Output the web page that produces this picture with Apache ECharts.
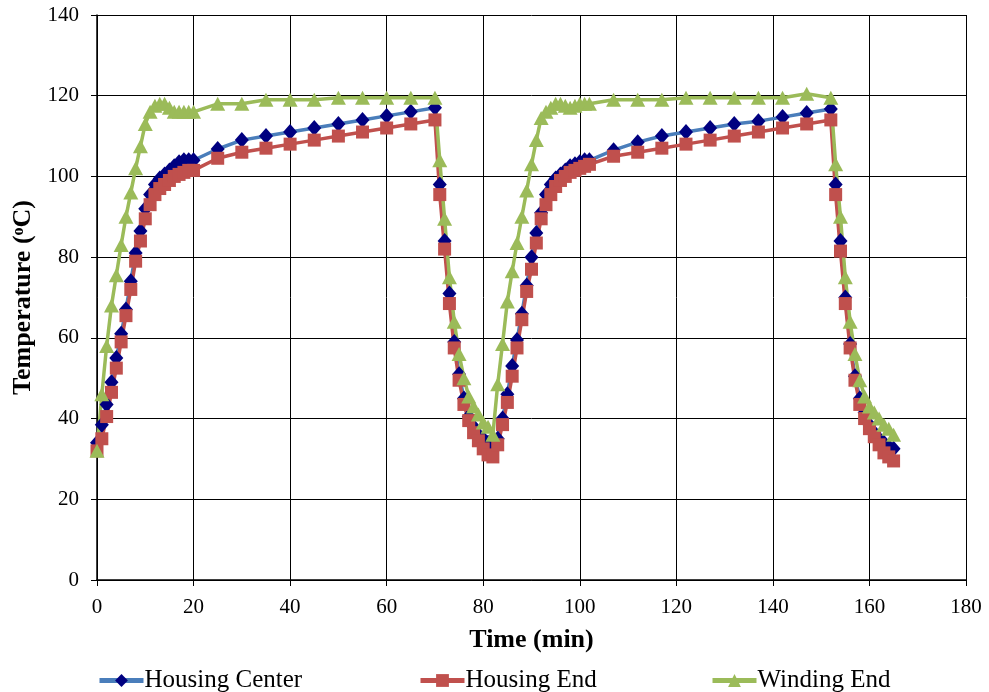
<!DOCTYPE html>
<html>
<head>
<meta charset="utf-8">
<script src="https://cdn.jsdelivr.net/npm/echarts@6/dist/echarts.min.js"></script>
<style>
  html, body { margin: 0; padding: 0; background: #fff; }
  #chart { width: 989px; height: 692px; }
</style>
</head>
<body>
<div id="chart"></div>
<script>
var times = [0,1,2,3,4,5,6,7,8,9,10,11,12,13,14,15,16,17,18,19,20,
  25,30,35,40,45,50,55,60,65,70,
  71,72,73,74,75,76,77,78,79,80,81,
  82,83,84,85,86,87,88,89,90,91,92,93,94,95,96,97,98,99,100,101,102,
  107,112,117,122,127,132,137,142,147,152,
  153,154,155,156,157,158,159,160,161,162,163,164,165];

var housingCenter = [34,38.5,43.5,49,55,61,67,74,81,86.5,92,95.5,98,99.5,100.5,101.5,102.5,103.5,104,104,104,
  106.8,109,110,111,112,113,114,115,116,117,
  98,84,71,59,51,45,40.5,38,36,35,34,
  33,35,40,46,53,59.5,66,73,80,86,91,95.5,98,99.5,100.5,101.5,102.5,103,103.5,104,104,
  106.5,108.5,110,111,112,113,113.7,114.7,115.7,116.7,
  98,84,70,58.5,50.5,45,41.5,38.5,36.5,35,34,33,32.5];

var housingEnd = [32,35,40.5,46.5,52.5,59,65.5,72,79,84,89.5,93,95.5,97,98,99,100,100.5,101,101.5,101.5,
  104.5,106,107,108,109,110,111,112,113,114,
  95.5,82,68.5,57.5,49.5,43.5,39.5,36.5,34.5,32.5,31,
  30.5,33.5,38.5,44,50.5,57.5,64.5,71.5,77,83.5,89.5,93,95.5,97.5,99,100,101,101.5,102,102.5,103,
  105,106,107,108,109,110,111,112,113,114,
  95.5,81.5,68.5,57.5,49.5,43.5,40,37.5,35.5,33.5,31.5,30.5,29.5];

var windingEnd = [32,46,58,68,75.5,83,90,96,102,107.5,113,116,117.5,118,118,117,116,116,116,116,116,
  118,118,119,119,119,119.5,119.5,119.5,119.5,119.5,
  104,89.5,75,64,56,50,45.5,43,41,39,38,
  36,48.5,58.5,69,76.5,83.5,90,96.5,103,109,114.5,116,117,118,118,117.5,117,117.5,118,118,118,
  119,119,119,119.5,119.5,119.5,119.5,119.5,120.5,119.5,
  103,90,75,64,56,49.5,45.5,43,41.5,40,38.5,37.5,36];

var seriesNames = ['Housing Center', 'Housing End', 'Winding End'];
var xTicks = { min: 0, max: 180, interval: 20 };
var yTicks = { min: 0, max: 140, interval: 20 };

function pairs(vals) {
  return times.map(function(t, i) { return [t, vals[i]]; });
}

var font = 'Liberation Serif';
var chart = echarts.init(document.getElementById('chart'), null, { renderer: 'canvas' });

function legendAt(name, left) {
  return {
    data: [name], left: left, top: 663, itemWidth: 44, itemHeight: 16, itemGap: 0,
    lineStyle: { width: 5 },
    textStyle: { fontFamily: font, fontSize: 25, color: '#000', padding: [0, 0, 0, -4] }
  };
}

chart.setOption({
  animation: false,
  backgroundColor: '#fff',
  grid: { left: 97, right: 23, top: 15, bottom: 112 },
  legend: [legendAt(seriesNames[0], 92), legendAt(seriesNames[1], 413), legendAt(seriesNames[2], 705)],
  xAxis: {
    type: 'value', min: xTicks.min, max: xTicks.max, interval: xTicks.interval,
    name: 'Time (min)', nameLocation: 'middle', nameGap: 47,
    nameTextStyle: { fontFamily: font, fontSize: 26, fontWeight: 'bold', color: '#000' },
    axisLine: { show: true, lineStyle: { color: '#000', width: 1.5 } },
    axisTick: { show: true, length: 6, inside: false, lineStyle: { color: '#000' } },
    axisLabel: { fontFamily: font, fontSize: 21, color: '#000', margin: 17 },
    splitLine: { show: true, lineStyle: { color: '#000', width: 1 } }
  },
  yAxis: {
    type: 'value', min: yTicks.min, max: yTicks.max, interval: yTicks.interval,
    name: '{a|Temperature (}{s|o}{a|C)}', nameLocation: 'middle', nameGap: 54,
    nameTextStyle: {
      fontFamily: font, fontSize: 26, fontWeight: 'bold', color: '#000',
      rich: {
        a: { fontFamily: font, fontSize: 26, fontWeight: 'bold', color: '#000' },
        s: { fontFamily: font, fontSize: 16, fontWeight: 'bold', color: '#000', verticalAlign: 'top', padding: [0, 0, 8, 0] }
      }
    },
    axisLine: { show: true, lineStyle: { color: '#000', width: 1.5 } },
    axisTick: { show: true, length: 6, lineStyle: { color: '#000' } },
    axisLabel: { fontFamily: font, fontSize: 21, color: '#000', margin: 18 },
    splitLine: { show: true, lineStyle: { color: '#000', width: 1 } }
  },
  series: [
    {
      name: seriesNames[0], type: 'line', data: pairs(housingCenter),
      symbol: 'diamond', symbolSize: [14, 16],
      lineStyle: { color: '#4a7ebb', width: 3.5 },
      itemStyle: { color: '#000080' }
    },
    {
      name: seriesNames[1], type: 'line', data: pairs(housingEnd),
      symbol: 'rect', symbolSize: 13,
      lineStyle: { color: '#c0504d', width: 3.5 },
      itemStyle: { color: '#c0504d' }
    },
    {
      name: seriesNames[2], type: 'line', data: pairs(windingEnd),
      symbol: 'triangle', symbolSize: [15, 14],
      lineStyle: { color: '#9bbb59', width: 3.5 },
      itemStyle: { color: '#9bbb59' }
    }
  ]
});
</script>
</body>
</html>
